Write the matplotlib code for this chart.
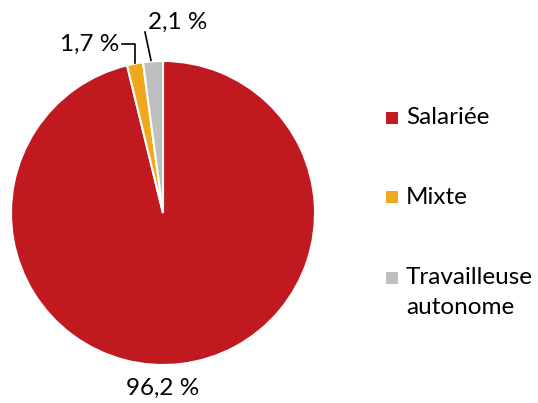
import matplotlib.pyplot as plt
import numpy as np

plt.rcParams['font.family'] = ['Lato', 'DejaVu Sans']

categories = ['Salariée', 'Mixte', 'Travailleuse\nautonome']
values = [96.2, 1.7, 2.1]
value_labels = ['96,2 %', '1,7 %', '2,1 %']
colors = ['#C0191F', '#F2A81D', '#BFBFBF']

W, H = 538, 403
fig = plt.figure(figsize=(W / 100, H / 100), dpi=100)
ax = fig.add_axes([0, 0, 1, 1])

cx, cy, r = 163, H - 213, 152
wedges, _ = ax.pie(values, colors=colors, startangle=90, counterclock=False,
                   center=(cx, cy), radius=r, frame=True,
                   wedgeprops=dict(edgecolor='white', linewidth=1.5))
ax.set_xlim(0, W)
ax.set_ylim(0, H)
ax.set_aspect('equal')
ax.axis('off')

fs = 17.5
# big slice label below the pie
ax.text(cx, cy - r - 23, value_labels[0], ha='center', va='center', fontsize=fs)

def edge_point(w):
    mid = np.deg2rad((w.theta1 + w.theta2) / 2)
    return cx + r * np.cos(mid), cy + r * np.sin(mid)

# Mixte label with elbow leader
px, py = edge_point(wedges[1])
ax.plot([px - 13, px, px], [H - 44, H - 44, py + 1], color='black', lw=1.2)
ax.text(px - 16, H - 44, value_labels[1], ha='right', va='center', fontsize=fs)

# Travailleuse label with straight leader
px, py = edge_point(wedges[2])
ax.plot([px - 8, px - 2], [H - 32, py + 1], color='black', lw=1.2)
ax.text(px - 5, H - 22, value_labels[2], ha='left', va='center', fontsize=fs)

# legend
leg_y = [118, 197, 278]
for c, lab, y in zip(colors, categories, leg_y):
    ax.scatter([392], [H - y], marker='s', s=72, color=c, linewidths=0)
    for i, line in enumerate(lab.split('\n')):
        ax.text(406, H - y - 29 * i, line, ha='left', va='center', fontsize=fs)

fig.savefig('out.png', dpi=100, facecolor='white')
